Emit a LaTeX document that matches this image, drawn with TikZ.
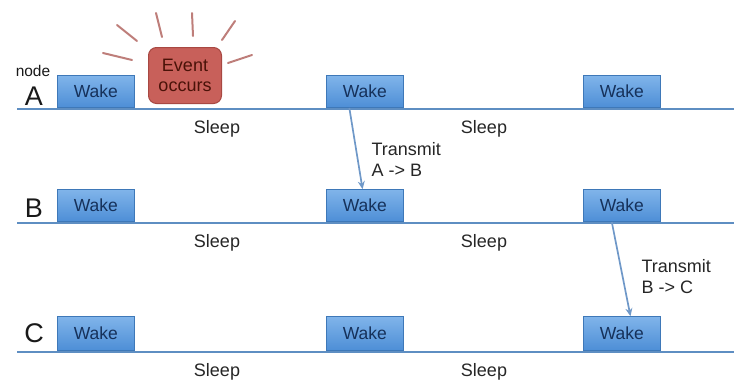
\documentclass[tikz,border=0pt]{standalone}
\usepackage{fontspec}
\setmainfont{Liberation Sans}
\usetikzlibrary{calc,arrows.meta}
\definecolor{wakeTop}{HTML}{80B4EA}
\definecolor{wakeBot}{HTML}{4D8ED6}
\definecolor{wakeEdge}{HTML}{3E78B8}
\definecolor{wakeText}{HTML}{16315A}
\definecolor{evFill}{HTML}{C8605A}
\definecolor{evEdge}{HTML}{A84842}
\definecolor{evText}{HTML}{4A1208}
\definecolor{rayCol}{HTML}{BE7E7A}
\definecolor{timeLine}{HTML}{5E8EC2}
\definecolor{arrCol}{HTML}{6F98C8}
\begin{document}
\begin{tikzpicture}[x=1pt,y=-1pt,
  wakebox/.style={draw=wakeEdge,line width=0.8pt,top color=wakeTop,bottom color=wakeBot,
    minimum width=77pt,minimum height=32pt,anchor=south west,inner sep=0pt,
    text=wakeText,font=\fontsize{17.5}{17.5}\selectfont},
  eventbox/.style={draw=evEdge,line width=1pt,fill=evFill,rounded corners=8pt,
    minimum width=73pt,minimum height=56pt,anchor=north west,inner sep=0pt,
    text=evText,font=\fontsize{18}{20}\selectfont,align=center},
  timeline/.style={draw=timeLine,line width=1.6pt},
  sleeplbl/.style={font=\fontsize{18}{18}\selectfont,text=black!85},
  rowlbl/.style={font=\fontsize{27}{27}\selectfont,text=black!90},
  txlbl/.style={font=\fontsize{18}{21}\selectfont,align=left,anchor=west,text=black!85},
  msg/.style={draw=arrCol,line width=1.7pt,-{Stealth[length=8pt,width=7pt]}},
  ray/.style={draw=rayCol,line width=2pt,line cap=round}]
\useasboundingbox (0,0) rectangle (734,381);

% timelines of the three nodes
\coordinate (la0) at (17,109);  \coordinate (la1) at (734,109);
\coordinate (lb0) at (17,223);  \coordinate (lb1) at (734,223);
\coordinate (lc0) at (17,352);  \coordinate (lc1) at (734,352);
\draw[timeline] (la0) -- (la1);
\draw[timeline] (lb0) -- (lb1);
\draw[timeline] (lc0) -- (lc1);

% wake periods
\node[wakebox] (wa1) at (57,108) {Wake};
\node[wakebox] (wa2) at (326,108) {Wake};
\node[wakebox] (wa3) at (583,108) {Wake};
\node[wakebox] (wb1) at (57,222) {Wake};
\node[wakebox] (wb2) at (326,222) {Wake};
\node[wakebox] (wb3) at (583,222) {Wake};
\node[wakebox,minimum height=34pt] (wc1) at (57,351) {Wake};
\node[wakebox,minimum height=34pt] (wc2) at (326,351) {Wake};
\node[wakebox,minimum height=34pt] (wc3) at (583,351) {Wake};

% row labels
\node[font=\fontsize{15.5}{15.5}\selectfont,text=black!90] (nodelbl) at (33,71) {node};
\node[rowlbl] (rA) at (34,96) {A};
\node[rowlbl] (rB) at (34,208) {B};
\node[rowlbl] (rC) at (34,333) {C};

% sleep periods
\node[sleeplbl] (sa1) at (217,129) {Sleep};
\node[sleeplbl] (sa2) at (484,129) {Sleep};
\node[sleeplbl] (sb1) at (217,243) {Sleep};
\node[sleeplbl] (sb2) at (484,243) {Sleep};
\node[sleeplbl] (sc1) at (217,372) {Sleep};
\node[sleeplbl] (sc2) at (484,372) {Sleep};

% event with burst
\node[eventbox] (ev) at (148,47) {Event\\occurs};
\coordinate (r1a) at (117,25);  \coordinate (r1b) at (137,41);
\coordinate (r2a) at (156,13);  \coordinate (r2b) at (162,37);
\coordinate (r3a) at (192,13);  \coordinate (r3b) at (193,36);
\coordinate (r4a) at (235,21);  \coordinate (r4b) at (222,40);
\coordinate (r5a) at (252,55);  \coordinate (r5b) at (228,63);
\coordinate (r6a) at (103,53);  \coordinate (r6b) at (132,60);
\foreach \i in {1,...,6} \draw[ray] (r\i a) -- (r\i b);

% transmissions
\draw[msg] ($(wa2.south west)!0.30!(wa2.south east)$) -- ($(wb2.north west)!0.47!(wb2.north east)$);
\node[txlbl] (t1) at (368,159) {Transmit\\A -> B};
\draw[msg] ($(wb3.south west)!0.37!(wb3.south east)$) -- ($(wc3.north west)!0.61!(wc3.north east)$);
\node[txlbl] (t2) at (638,277) {Transmit\\B -> C};
\end{tikzpicture}
\end{document}
